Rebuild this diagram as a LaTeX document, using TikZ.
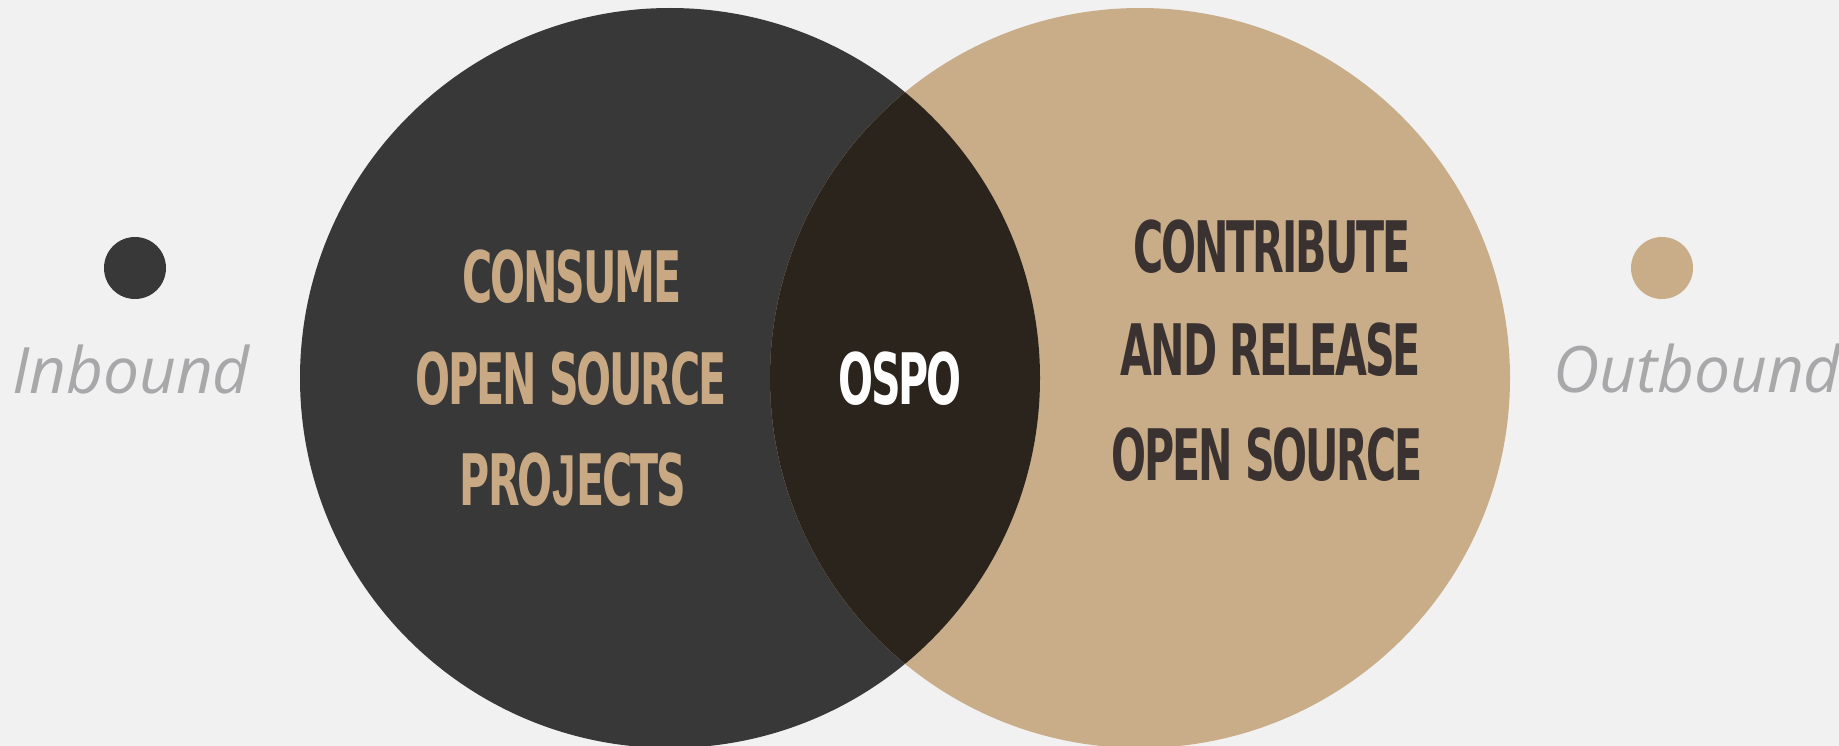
\documentclass[tikz,border=0pt]{standalone}
\usepackage{fontspec}
\usepackage{graphicx}
\newfontfamily\opensans{Open Sans}
\newfontfamily\heavysans{DejaVu Sans Bold}[LetterSpace=-5]
\newfontfamily\libsansbold{Liberation Sans Bold}[LetterSpace=-5]
\newcommand{\squeezetext}[1]{\scalebox{0.58}[1]{#1}}
\newcommand{\plainJ}{{\libsansbold\fontsize{72.3}{72}\selectfont J}}
\definecolor{bgc}{HTML}{F1F1F1}
\definecolor{darkc}{HTML}{383838}
\definecolor{tanc}{HTML}{C8AD88}
\definecolor{lensc}{HTML}{2B241D}
\definecolor{tantext}{HTML}{C8A983}
\definecolor{darktext}{HTML}{3A3131}
\definecolor{greyt}{HTML}{A8A8AA}
\tikzset{
  bigtext/.style={anchor=base, inner sep=0pt, font=\heavysans\fontsize{71}{71}\selectfont},
  lefttext/.style={bigtext, text=tantext},
  righttext/.style={bigtext, text=darktext},
  sidetext/.style={anchor=base, inner sep=0pt, text=greyt, font=\opensans\itshape\fontsize{64}{64}\selectfont},
}
\begin{document}
\begin{tikzpicture}[x=1pt,y=-1pt]
\fill[bgc] (0,0) rectangle (1839,746);
\useasboundingbox (0,0) rectangle (1839,746);
% circles
\fill[darkc] (670,378) circle (370pt);
\fill[tanc] (1140,378) circle (370pt);
\begin{scope}
  \clip (670,378) circle (370pt);
  \fill[lensc] (1140,378) circle (370pt);
\end{scope}
% dots
\fill[darkc] (135,268) circle (31pt);
\fill[tanc] (1662,268) circle (31pt);
% side labels
\node[sidetext] (in) at (131,393) {Inbound};
\node[sidetext] (out) at (1697,392) {Outbound};
% left text
\node[lefttext] (l1) at (572,302) {\squeezetext{CONSUME}};
\node[lefttext] (l2) at (571,404) {\squeezetext{OPEN SOURCE}};
\node[lefttext] (l3) at (573,505) {\squeezetext{PRO\plainJ ECTS}};
% center
\node[bigtext, text=white] (ospo) at (900,404) {\squeezetext{OSPO}};
% right text
\node[righttext] (r1) at (1272,272) {\squeezetext{CONTRIBUTE}};
\node[righttext] (r2) at (1271,375) {\squeezetext{AND RELEASE}};
\node[righttext] (r3) at (1267,480) {\squeezetext{OPEN SOURCE}};
\end{tikzpicture}
\end{document}
